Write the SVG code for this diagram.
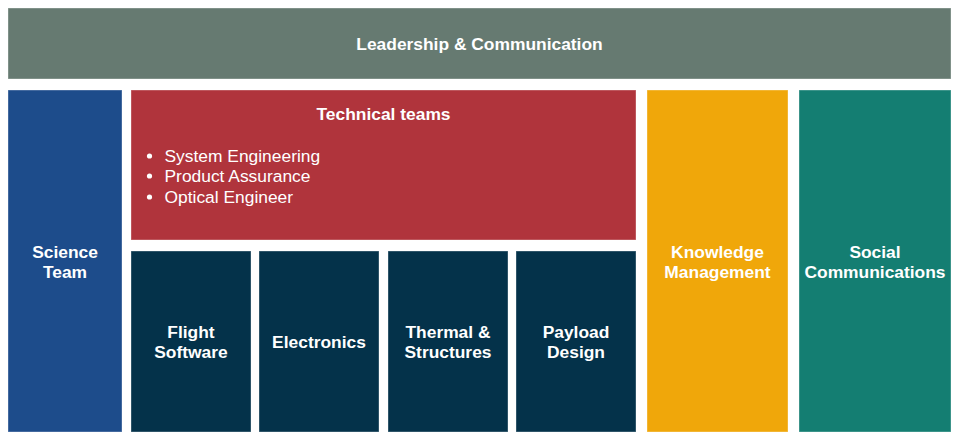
<svg xmlns="http://www.w3.org/2000/svg" width="960" height="443" viewBox="0 0 960 443">
<style>
  .box { stroke: #ffffff; stroke-opacity: 0.35; stroke-width: 1; }
  .t { font-family: "Liberation Sans", Arial, sans-serif; font-size: 17.4px; fill: #ffffff; }
  .b { font-weight: bold; text-anchor: middle; }
</style>
<rect width="960" height="443" fill="#ffffff"/>
<g id="leadership">
  <rect class="box" x="8" y="8" width="943" height="71" fill="#667a71"/>
  <text class="t b" x="479.5" y="50">Leadership &amp; Communication</text>
</g>
<g id="science">
  <rect class="box" x="8" y="90" width="114" height="342" fill="#1d4c8b"/>
  <text class="t b" x="65" y="258">Science</text>
  <text class="t b" x="65" y="278">Team</text>
</g>
<g id="technical">
  <rect class="box" x="131" y="90" width="505" height="150" fill="#b0343c"/>
  <text class="t b" x="383.5" y="120">Technical teams</text>
  <circle cx="149.5" cy="156" r="2.6" fill="#ffffff"/>
  <circle cx="149.5" cy="176" r="2.6" fill="#ffffff"/>
  <circle cx="149.5" cy="197" r="2.6" fill="#ffffff"/>
  <text class="t" x="164.5" y="162">System Engineering</text>
  <text class="t" x="164.5" y="182">Product Assurance</text>
  <text class="t" x="164.5" y="203">Optical Engineer</text>
</g>
<g id="flight">
  <rect class="box" x="131" y="251" width="120" height="181" fill="#04324a"/>
  <text class="t b" x="191" y="338">Flight</text>
  <text class="t b" x="191" y="358">Software</text>
</g>
<g id="electronics">
  <rect class="box" x="259" y="251" width="120" height="181" fill="#04324a"/>
  <text class="t b" x="319" y="348">Electronics</text>
</g>
<g id="thermal">
  <rect class="box" x="388" y="251" width="120" height="181" fill="#04324a"/>
  <text class="t b" x="448" y="338">Thermal &amp;</text>
  <text class="t b" x="448" y="358">Structures</text>
</g>
<g id="payload">
  <rect class="box" x="516" y="251" width="120" height="181" fill="#04324a"/>
  <text class="t b" x="576" y="338">Payload</text>
  <text class="t b" x="576" y="358">Design</text>
</g>
<g id="knowledge">
  <rect class="box" x="647" y="90" width="141" height="342" fill="#f0a70a"/>
  <text class="t b" x="717.5" y="258">Knowledge</text>
  <text class="t b" x="717.5" y="278">Management</text>
</g>
<g id="social">
  <rect class="box" x="799" y="90" width="152" height="342" fill="#147e72"/>
  <text class="t b" x="875" y="258">Social</text>
  <text class="t b" x="875" y="278">Communications</text>
</g>
<g id="connectors"></g>
</svg>
